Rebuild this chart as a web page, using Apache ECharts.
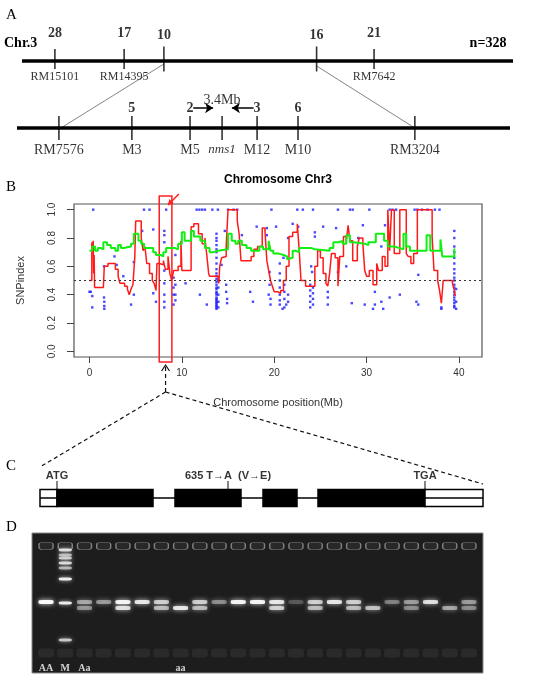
<!DOCTYPE html>
<html>
<head>
<meta charset="utf-8">
<script src="https://cdn.jsdelivr.net/npm/echarts@6/dist/echarts.min.js"></script>
<style>
html,body{margin:0;padding:0;background:#fff}
#main{width:550px;height:680px}
</style>
</head>
<body>
<div id="main"></div>
<script>
// ---- panel A : genetic map (positions in map units along each bar)
var topNames  = ['RM15101', 'RM14395', '', '', 'RM7642'];
var topRecomb = ['28', '17', '10', '16', '21'];
var topPos    = [6.7, 20.8, 28.9, 60.0, 71.7];
var topFlanks = [2, 3];            // markers the fine map opens between
var fineNames  = ['RM7576', 'M3', 'M5', 'nms1', 'M12', 'M10', 'RM3204'];
var fineRecomb = ['', '5', '2', '', '3', '6', ''];
var finePos    = [8.5, 23.3, 35.1, 41.6, 48.7, 57.0, 80.7];
var geneIdx = 3;
var fineFlanks = [2, 4];
var intervalText = '3.4Mb';
var popText = 'n=328';

// ---- panel B : SNP-index along chr3 (Mb, index)
var snpPoints = [
  [0.4,1],[5.9,1],[6.5,1],[8.3,1],[11.6,1],[11.9,1],[12.2,1],[12.5,1],[13.3,1],[13.9,1],
  [15.0,1],[15.6,1],[16.0,1],[19.7,1],[22.5,1],[23.1,1],[24.2,1],[26.9,1],[28.2,1],[28.5,1],
  [30.3,1],[32.5,1],[32.8,1],[33.2,1],[35.2,1],[35.5,1],[36.0,1],[36.6,1],[37.4,1],[37.9,1],
  [0.0,0.42],[0.13,0.42],[0.3,0.39],[0.3,0.31],[1.57,0.60],[1.57,0.38],[1.6,0.35],[1.6,0.32],
  [1.6,0.30],[2.7,0.67],[2.94,0.61],[3.66,0.53],[4.5,0.33],[4.8,0.63],[4.8,0.40],[5.7,0.85],
  [6.9,0.86],[6.9,0.41],[7.2,0.35],[8.1,0.85],[8.1,0.82],[8.1,0.77],[8.1,0.57],[8.1,0.48],
  [8.1,0.40],[8.1,0.35],[8.1,0.31],[9.1,0.52],[9.1,0.45],[9.1,0.40],[9.1,0.33],[9.3,0.68],
  [9.3,0.47],[9.3,0.40],[9.3,0.36],[10.4,0.48],[11.95,0.40],[12.7,0.33],
  [14.65,0.85],[14.3,0.61],[14.8,0.47],[14.8,0.42],[14.9,0.37],[14.9,0.34],[16.5,0.82],
  [18.1,0.88],[19.2,0.87],[19.2,0.82],[19.5,0.56],[19.5,0.47],[19.4,0.40],[19.6,0.37],
  [19.6,0.33],[17.4,0.42],[17.7,0.35],
  [20.2,0.88],[21.0,0.66],[21.5,0.80],[22.0,0.90],[22.6,0.88],[24.4,0.84],[24.4,0.81],
  [25.3,0.88],[26.7,0.87],[29.6,0.89],[20.6,0.62],[20.6,0.55],[20.6,0.50],[20.6,0.45],
  [20.6,0.40],[20.6,0.36],[20.6,0.33],[21.1,0.47],[21.1,0.42],[21.1,0.37],[21.1,0.31],
  [21.5,0.40],[21.5,0.35],[20.9,0.30],[21.3,0.33],[24.0,0.60],[24.1,0.56],[25.8,0.42],
  [25.8,0.38],[25.8,0.33],[26.9,0.56],[27.8,0.60],[28.4,0.34],[29.8,0.33],[30.9,0.42],
  [30.9,0.33],[29.1,0.80],
  [31.6,0.35],[30.7,0.30],[32.0,0.89],[31.6,0.74],[33.6,0.40],[32.5,0.38],[35.4,0.35],
  [35.6,0.54],[35.6,0.33],[38.1,0.31],[31.8,0.30],[38.1,0.30]
];
// dense stacks of SNPs at one position: [Mb, [index...]]
var snpStacks = [
  [13.75, [0.83,0.80,0.78,0.75,0.72,0.70,0.66,0.62,0.58,0.55,0.53,0.51,0.49,0.47,0.45,0.44,
           0.42,0.41,0.40,0.38,0.37,0.36,0.35,0.34,0.33,0.32,0.31,0.30]],
  [13.95, [0.50,0.45,0.40,0.35,0.31]],
  [23.9,  [0.47,0.43,0.39,0.35,0.31]],
  [24.2,  [0.45,0.41,0.37,0.33]],
  [39.5,  [0.85,0.80,0.74,0.70,0.66,0.62,0.58,0.55,0.52,0.50,0.47,0.45,0.42,0.40,0.38,
           0.36,0.34,0.32,0.31]],
  [39.7,  [0.44,0.35,0.30]]
];
var redLine = [
  [0,0.50],[0.25,0.77],[0.35,0.70],[0.4,0.78],[0.45,0.55],[0.5,0.68],[0.55,0.45],[1.5,0.44],
  [1.6,0.60],[2.0,0.62],[2.8,0.58],[3.1,0.53],[3.3,0.48],[3.8,0.46],[4.1,0.44],[4.3,0.40],
  [4.5,0.44],[4.7,0.47],[4.9,0.66],[5.0,0.92],[5.6,0.80],[5.8,0.71],[6.0,0.74],[6.2,0.62],
  [6.5,0.55],[6.8,0.50],[7.0,0.48],[7.2,0.43],[7.3,0.62],[7.6,0.61],[8.0,0.64],[8.2,0.58],
  [8.5,0.67],[8.7,0.55],[8.9,0.50],[9.1,0.57],[9.6,0.60],[9.9,0.78],[10.0,0.57],[11.0,0.88],
  [11.3,0.90],[11.8,0.83],[12.2,0.76],[12.5,0.80],[12.7,0.68],[12.9,0.55],[13.0,0.53],
  [13.9,0.52],[14.0,0.48],[14.1,0.60],[14.3,0.66],[14.5,0.67],[14.8,0.74],[15.0,1.0],
  [16.0,0.92],[16.2,0.83],[16.4,0.64],[17.5,0.67],[17.8,0.72],[18.2,0.74],[18.7,0.87],
  [19.0,0.85],[19.2,0.64],[19.4,0.57],[19.6,0.50],[19.8,0.46],[20.0,0.42],[20.4,0.41],
  [20.7,0.43],[21.0,0.50],[21.3,0.60],[21.6,0.81],[22.0,0.84],[22.5,0.90],[22.7,0.72],
  [22.9,0.50],[23.4,0.46],[24.4,0.60],[24.7,0.71],[25.0,0.66],[25.3,0.55],[25.6,0.48],
  [25.8,0.46],[26.0,0.55],[26.2,0.69],[26.6,0.66],[26.9,0.46],[27.1,0.67],[27.5,0.81],
  [27.8,0.77],[28.0,0.89],[28.2,0.78],[28.5,0.64],[29.0,0.74],[29.2,0.80],[29.6,0.76],
  [29.8,0.57],[30.0,0.53],[30.3,0.57],[30.7,0.47],[31.1,0.62],[31.3,0.57],[31.7,0.67],
  [32.0,0.60],[32.3,1.0],[32.5,0.71],[32.7,1.0],[33.0,0.69],[33.6,1.0],[34.3,0.69],
  [34.5,0.67],[34.8,0.62],[35.1,0.69],[35.5,1.0],[37.1,0.81],[37.3,0.57],[37.7,0.50],
  [37.9,0.43],[38.1,0.34],[38.3,0.50],[39.3,0.48],[39.5,0.43],[39.6,0.39]
];
var greenLine = [
  [0,0.71],[0.3,0.74],[0.6,0.71],[0.9,0.73],[1.2,0.72],[1.5,0.77],[1.9,0.75],[2.3,0.73],
  [2.8,0.71],[3.1,0.75],[3.4,0.73],[3.7,0.74],[4.5,0.76],[4.8,0.83],[5.3,0.78],[5.6,0.76],
  [5.9,0.73],[6.9,0.70],[7.2,0.68],[7.7,0.67],[8.0,0.70],[8.3,0.73],[9.2,0.72],[9.6,0.76],
  [10.0,0.84],[10.3,0.78],[11.0,0.85],[11.3,0.81],[12.0,0.78],[12.5,0.73],[13.0,0.70],
  [13.4,0.71],[13.9,0.72],[15.0,0.83],[15.4,0.78],[15.8,0.76],[16.1,0.78],[16.5,0.75],
  [17.0,0.73],[17.5,0.71],[18.4,0.74],[18.8,0.72],[19.4,0.78],[19.6,0.71],[19.9,0.69],
  [20.5,0.68],[21.0,0.67],[21.4,0.65],[21.6,0.66],[22.0,0.71],[22.3,0.70],[22.7,0.73],
  [24.0,0.72],[24.4,0.71],[26.0,0.73],[26.4,0.77],[27.0,0.78],[27.4,0.76],[27.8,0.82],
  [28.2,0.77],[28.6,0.76],[29.8,0.75],[30.2,0.77],[31.0,0.83],[31.9,0.78],[32.3,0.74],
  [33.0,0.73],[33.5,0.72],[34.0,0.83],[34.3,0.74],[34.7,0.71],[35.5,0.71],[36.5,0.82],
  [36.9,0.71],[38.0,0.79],[38.2,0.67],[39.5,0.72],[39.6,0.72]
];
var xTicks = [0, 10, 20, 30, 40];
var yTicks = [0, 0.2, 0.4, 0.6, 0.8, 1.0];
var threshold = 0.5;
var candidate = [7.55, 8.92];      // boxed candidate region, Mb

// ---- panel C : gene model (bp-like units)
var geneParts = [[0,170,0],[170,1130,1],[1350,2010,1],[2230,2570,1],[2780,3850,1],[3850,4430,0]];
var geneLen = 4430;
var geneMarks = [[170,'ATG'],[1880,'635 T\u2192A  (V\u2192E)'],[3850,'TGA']];

// ---- panel D : gel (migration measured down from gel top)
var laneNames = ['AA','M','Aa','','','','','aa','','','','','','','','','','','','','','',''];
var laneGeno  = ['AA','M','Aa','AA','Aa','AA','Aa','aa','Aa','AA','AA','AA','Aa','AA','Aa','AA','Aa','aa','AA','Aa','AA','aa','Aa'];
var laneGlow  = [1.0,0,0.5,0.45,0.95,0.85,0.7,1.0,0.7,0.4,0.95,0.95,0.85,0.2,0.7,0.85,0.7,0.75,0.35,0.45,0.8,0.6,0.45];
var bandUpper = 69, bandLower = 75, wellRow = 13, dimerRow = 120, labelRow = 135;
var ladderRows = [17, 22, 25, 30, 35, 46, 70, 107];
var ladderGlow = [0.8, 0.6, 0.7, 0.8, 0.6, 0.9, 0.9, 0.7];

var serif = '"Liberation Serif", "DejaVu Serif", serif';
var sans = '"Liberation Sans", Arial, "DejaVu Sans", sans-serif';

var chart = echarts.init(document.getElementById('main'));

function mapTicks(pos, labels, longIdx) {
  return pos.map(function (p, i) {
    var isLong = longIdx.indexOf(i) >= 0;
    return {
      value: [p, 0], name: labels[i],
      symbolSize: [1.6, isLong ? 25 : 20],
      label: { distance: isLong ? 4.5 : 9 }
    };
  });
}
var fineTickData = finePos.map(function (p, i) {
  var item = { value: [p, 0], name: fineRecomb[i] };
  if (i === geneIdx) {
    item.name = intervalText;
    item.label = { distance: 9, fontWeight: 'normal' };
  }
  return item;
});
var fineNameData = finePos.map(function (p, i) {
  var item = { value: [p, 0], name: fineNames[i] };
  if (i === geneIdx) item.label = { fontStyle: 'italic', fontSize: 13 };
  return item;
});
var arrows = fineFlanks.map(function (f) {
  var a = finePos[f], g = finePos[geneIdx];
  return [{ coord: [a + (g - a) * 0.1, 1] }, { coord: [a + (g - a) * 0.72, 1] }];
});

var snpAll = snpPoints.slice();
snpStacks.forEach(function (s) {
  s[1].forEach(function (v) { snpAll.push([s[0], v]); });
});

var bands = [];
laneGeno.forEach(function (g, i) {
  if (g === 'AA' || g === 'Aa') bands.push({ value: [i, bandUpper], itemStyle: { opacity: laneGlow[i] } });
  if (g === 'aa' || g === 'Aa') bands.push({ value: [i, bandLower], itemStyle: { opacity: laneGlow[i] * 0.85 } });
});
var ladder = ladderRows.map(function (r, i) {
  return { value: [laneGeno.indexOf('M'), r], itemStyle: { opacity: ladderGlow[i] } };
});

function hiddenAxis(grid, min, max, inverse) {
  return { type: 'value', gridIndex: grid, min: min, max: max, inverse: !!inverse, show: false };
}

var option = {
  animation: false,
  grid: [
    { left: 22, top: 41, width: 491, height: 40 },
    { left: 17, top: 108, width: 493, height: 40 },
    { left: 74, top: 204, width: 408, height: 153, show: true, borderColor: '#555', borderWidth: 1.2 },
    { left: 40, top: 478, width: 443, height: 40 },
    { left: 32, top: 533, width: 451, height: 140, show: true, backgroundColor: '#1d1d1d', borderColor: '#888', borderWidth: 1 }
  ],
  xAxis: [
    hiddenAxis(0, 0, 100),
    hiddenAxis(1, 0, 100),
    {
      type: 'value', gridIndex: 2, min: -1.68, max: 42.5,
      name: 'Chromosome position(Mb)', nameLocation: 'middle', nameGap: 40,
      nameTextStyle: { fontFamily: sans, fontSize: 11, color: '#333' },
      axisLine: { show: false, onZero: false }, splitLine: { show: false },
      axisTick: { show: true, length: 6, customValues: xTicks, lineStyle: { color: '#444' } },
      axisLabel: { customValues: xTicks, margin: 11, fontFamily: sans, fontSize: 10, color: '#333' }
    },
    hiddenAxis(3, 0, geneLen),
    hiddenAxis(4, -0.73, 22.73)
  ],
  yAxis: [
    hiddenAxis(0, -1, 1),
    hiddenAxis(1, -1, 1),
    {
      type: 'value', gridIndex: 2, min: -0.04, max: 1.04,
      name: 'SNPindex', nameLocation: 'middle', nameGap: 48,
      nameTextStyle: { fontFamily: sans, fontSize: 11, color: '#333' },
      axisLine: { show: false, onZero: false }, splitLine: { show: false },
      axisTick: { show: true, length: 7, customValues: yTicks, lineStyle: { color: '#444' } },
      axisLabel: {
        customValues: yTicks, rotate: 90, margin: 17, fontFamily: sans, fontSize: 10, color: '#333',
        formatter: function (v) { return v.toFixed(1); }
      }
    },
    hiddenAxis(3, -2, 2),
    hiddenAxis(4, 0, 140, true)
  ],
  series: [
    // A upper bar
    { type: 'line', xAxisIndex: 0, yAxisIndex: 0, data: [[0, 0], [100, 0]], symbol: 'none',
      lineStyle: { color: '#000', width: 3.5 }, silent: true },
    { type: 'scatter', xAxisIndex: 0, yAxisIndex: 0, symbol: 'rect', symbolOffset: [0, -2],
      data: mapTicks(topPos, topRecomb, topFlanks), itemStyle: { color: '#000' }, clip: false,
      label: { show: true, position: 'top', formatter: '{b}', fontFamily: serif, fontWeight: 'bold', fontSize: 14, color: '#000' } },
    { type: 'scatter', xAxisIndex: 0, yAxisIndex: 0, symbolSize: 0, clip: false,
      data: topPos.map(function (p, i) { return { value: [p, 0], name: topNames[i] }; }),
      label: { show: true, position: 'bottom', distance: 10, formatter: '{b}', fontFamily: serif, fontSize: 12, color: '#000' } },
    // A fine bar
    { type: 'line', xAxisIndex: 1, yAxisIndex: 1, data: [[0, 0], [100, 0]], symbol: 'none',
      lineStyle: { color: '#000', width: 3.5 }, silent: true,
      markLine: { silent: true, symbol: ['none', 'arrow'], symbolSize: 8, label: { show: false },
        lineStyle: { color: '#000', width: 1.5, type: 'solid' }, data: arrows } },
    { type: 'scatter', xAxisIndex: 1, yAxisIndex: 1, symbol: 'rect', symbolSize: [1.6, 24], clip: false,
      data: fineTickData, itemStyle: { color: '#000' },
      label: { show: true, position: 'top', distance: 1, formatter: '{b}', fontFamily: serif, fontWeight: 'bold', fontSize: 14, color: '#000' } },
    { type: 'scatter', xAxisIndex: 1, yAxisIndex: 1, symbolSize: 0, clip: false, data: fineNameData,
      label: { show: true, position: 'bottom', distance: 15, formatter: '{b}', fontFamily: serif, fontSize: 14, color: '#000' } },
    // B
    { type: 'scatter', xAxisIndex: 2, yAxisIndex: 2, data: snpAll, symbol: 'rect', symbolSize: 2.4,
      itemStyle: { color: '#1a1aff' }, z: 2 },
    { type: 'line', xAxisIndex: 2, yAxisIndex: 2, data: redLine, step: 'end', symbol: 'none',
      lineStyle: { color: '#ff1a1a', width: 1.5 }, z: 3,
      markLine: { silent: true, symbol: 'none', label: { show: false },
        lineStyle: { color: '#333', type: [2, 3], width: 1.2 }, data: [{ yAxis: threshold }] } },
    { type: 'line', xAxisIndex: 2, yAxisIndex: 2, data: greenLine, step: 'end', symbol: 'none',
      lineStyle: { color: '#11ee11', width: 2 }, z: 4 },
    // C
    { type: 'line', xAxisIndex: 3, yAxisIndex: 3, data: [[0, 0], [geneLen, 0]], symbol: 'none',
      lineStyle: { color: '#000', width: 1.5 }, silent: true },
    { type: 'custom', xAxisIndex: 3, yAxisIndex: 3, data: geneParts,
      renderItem: function (params, api) {
        var s = api.coord([api.value(0), 0]);
        var e = api.coord([api.value(1), 0]);
        var h = api.size([0, 1.7])[1];
        return { type: 'rect', shape: { x: s[0], y: s[1] - h / 2, width: e[0] - s[0], height: h },
          style: { fill: api.value(2) ? '#000' : '#fff', stroke: '#000', lineWidth: 1.5 } };
      } },
    { type: 'scatter', xAxisIndex: 3, yAxisIndex: 3, symbol: 'rect', symbolSize: [1.2, 8],
      data: geneMarks.map(function (m) { return { value: [m[0], 1.3], name: m[1] }; }),
      itemStyle: { color: '#000' }, clip: false,
      label: { show: true, position: 'top', distance: 0, formatter: '{b}', fontFamily: sans, fontWeight: 'bold', fontSize: 11, color: '#000' } },
    // D
    { type: 'scatter', xAxisIndex: 4, yAxisIndex: 4, symbol: 'roundRect', symbolSize: [14, 7],
      data: laneGeno.map(function (g, i) { return [i, wellRow]; }),
      itemStyle: { color: '#2c2c2c', borderColor: '#9a9a9a', borderWidth: 1 } },
    { type: 'scatter', xAxisIndex: 4, yAxisIndex: 4, symbol: 'roundRect', symbolSize: [16, 9],
      data: laneGeno.map(function (g, i) { return [i, dimerRow]; }),
      itemStyle: { color: '#fff', opacity: 0.06 } },
    { type: 'scatter', xAxisIndex: 4, yAxisIndex: 4, symbol: 'roundRect', symbolSize: [15, 4], data: bands,
      itemStyle: { color: '#fafafa', shadowBlur: 5, shadowColor: 'rgba(255,255,255,0.9)' } },
    { type: 'scatter', xAxisIndex: 4, yAxisIndex: 4, symbol: 'roundRect', symbolSize: [13, 3], data: ladder,
      itemStyle: { color: '#fafafa', shadowBlur: 4, shadowColor: 'rgba(255,255,255,0.8)' } },
    { type: 'scatter', xAxisIndex: 4, yAxisIndex: 4, symbolSize: 0,
      data: laneNames.map(function (n, i) { return { value: [i, labelRow], name: n }; }),
      label: { show: true, position: 'inside', formatter: '{b}', fontFamily: serif, fontWeight: 'bold', fontSize: 10, color: '#fff' } }
  ]
};
chart.setOption(option);

// annotation overlay, anchored on the axes above
function px(grid, v) { return chart.convertToPixel({ gridIndex: grid }, v); }
var g = [];
function text(t, x, y, style) {
  g.push({ type: 'text', x: x, y: y, style: Object.assign({ text: t, fill: '#000', textVerticalAlign: 'middle' }, style) });
}
function seg(a, b, style) {
  g.push({ type: 'line', shape: { x1: a[0], y1: a[1], x2: b[0], y2: b[1] }, style: style });
}
text('A', 6, 15, { font: '15px ' + serif });
text('B', 6, 187, { font: '15px ' + serif });
text('C', 6, 466, { font: '15px ' + serif });
text('D', 6, 527, { font: '15px ' + serif });
text('Chr.3', 4, 43, { font: 'bold 14px ' + serif });
text(popText, 488, 43, { font: 'bold 14px ' + serif, textAlign: 'center' });

var thin = { stroke: '#666', lineWidth: 0.8 };
var t0 = px(0, [topPos[topFlanks[0]], 0]), t1 = px(0, [topPos[topFlanks[1]], 0]);
var f0 = px(1, [finePos[0], 0]), f1 = px(1, [finePos[finePos.length - 1], 0]);
seg([t0[0], t0[1] + 3], [f0[0] + 2, f0[1]], thin);
seg([t1[0], t1[1] + 5], [f1[0], f1[1]], thin);

// B title
var bl = px(2, [-1.68, 1.04]), br = px(2, [42.5, -0.04]);
text('Chromosome Chr3', (bl[0] + br[0]) / 2, 180, { font: 'bold 12px ' + sans, textAlign: 'center' });

// candidate box and red pointer
var c0 = px(2, [candidate[0], 1.04]), c1 = px(2, [candidate[1], -0.04]);
var boxTop = c0[1] - 8, boxBot = c1[1] + 5;
g.push({ type: 'rect', shape: { x: c0[0], y: boxTop, width: c1[0] - c0[0], height: boxBot - boxTop },
  style: { fill: 'none', stroke: '#ff2020', lineWidth: 1.5 } });
var tip = [c1[0] - 4, boxTop + 9], tail = [c1[0] + 7, boxTop - 2];
seg(tail, tip, { stroke: '#ff2020', lineWidth: 1.5 });
g.push({ type: 'polygon', shape: { points: [tip, [tip[0] + 1.5, tip[1] - 6], [tip[0] + 6, tip[1] - 1.5]] },
  style: { fill: '#ff2020' } });

// dashed zoom lines from the box down to the gene model
var cx = (c0[0] + c1[0]) / 2;
var dash = { stroke: '#111', lineWidth: 1.2, lineDash: [4, 3] };
var apex = [cx, 392];
var gL = px(3, [0, 0]), gR = px(3, [geneLen, 0]);
seg([cx, boxBot + 5], apex, dash);
g.push({ type: 'polyline', shape: { points: [[cx - 4, boxBot + 9], [cx, boxBot + 3], [cx + 4, boxBot + 9]] },
  style: { stroke: '#111', lineWidth: 1.2, fill: 'none' } });
seg(apex, [gL[0], gL[1] - 31], dash);
seg(apex, [gR[0], gR[1] - 14], dash);

chart.setOption({ graphic: g });
</script>
</body>
</html>
